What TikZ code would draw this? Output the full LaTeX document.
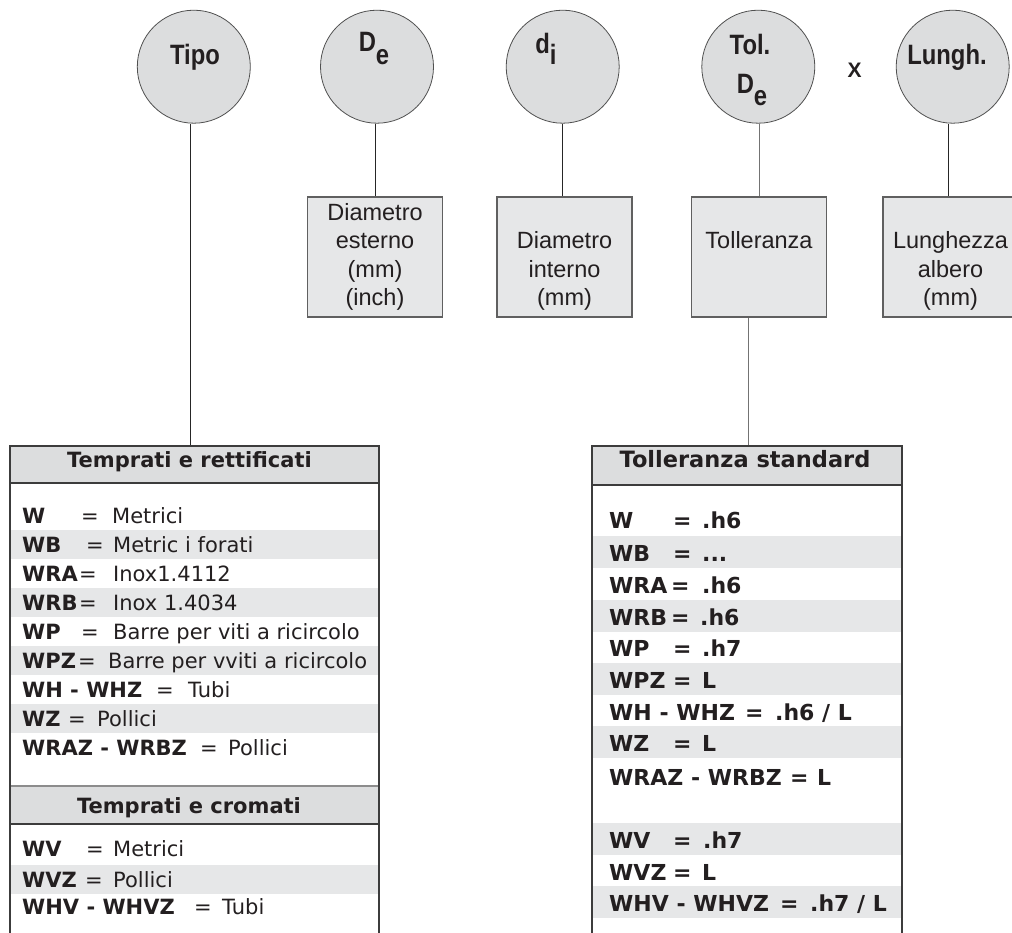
\documentclass[tikz,border=0pt]{standalone}
\usepackage{fontspec}
\setmainfont{Liberation Sans}
\newfontfamily\circfont[FakeStretch=0.85]{Liberation Sans}
\newfontfamily\tabfont{DejaVu Sans}
\definecolor{circfill}{HTML}{DCDDDE}
\definecolor{circline}{HTML}{505050}
\definecolor{boxfill}{HTML}{E6E7E8}
\definecolor{boxline}{HTML}{606060}
\definecolor{headfill}{HTML}{DCDDDE}
\definecolor{bandfill}{HTML}{E6E7E8}
\definecolor{tabline}{HTML}{3C3C3C}
\definecolor{ink}{HTML}{231F20}
\newcommand\lrow[6]{\node[ltxt] (#1) at (22,#2) {\makebox[\dimexpr#3pt-24pt\relax][l]{\textbf{#5}}\makebox[\dimexpr#4pt-#3pt+2pt\relax][l]{=}#6};}
\newcommand\rrow[6]{\node[rtxt] (#1) at (609,#2) {\makebox[\dimexpr#3pt-611pt\relax][l]{#5}\makebox[\dimexpr#4pt-#3pt+2pt\relax][l]{=}#6};}
\begin{document}
\begin{tikzpicture}[x=1pt,y=-1pt,
  circ/.style={circle, draw=circline, fill=circfill, line width=0.8pt, minimum size=113pt, inner sep=0pt},
  clab/.style={font=\circfont\bfseries\fontsize{28}{30}\selectfont, text=ink, inner sep=0pt, anchor=base},
  infobox/.style={draw=boxline, fill=boxfill, line width=1.3pt, minimum width=135pt, minimum height=120pt, inner sep=0pt},
  btxt/.style={font=\fontsize{23.5}{28.5}\selectfont, align=center, text=ink, inner sep=0pt, anchor=north},
  tabframe/.style={draw=tabline, line width=1.5pt, inner sep=0pt, anchor=north west},
  link/.style={draw=black!85, line width=0.9pt},
  linkgray/.style={draw=black!55, line width=0.9pt},
  ltxt/.style={font=\tabfont\fontsize{21}{24}\selectfont, text=ink, inner sep=0pt, anchor=base west},
  rtxt/.style={font=\tabfont\bfseries\fontsize{22}{24}\selectfont, text=ink, inner sep=0pt, anchor=base west},
  lhead/.style={font=\tabfont\bfseries\fontsize{21}{24}\selectfont, text=ink, inner sep=0pt, anchor=base},
  rhead/.style={font=\tabfont\bfseries\fontsize{22.5}{24}\selectfont, text=ink, inner sep=0pt, anchor=base},
  hline/.style={draw=tabline, line width=1.5pt},
  band/.style={fill=bandfill}
]
\useasboundingbox (0,0) rectangle (1012,932);

% circles
\node[circ] (ctipo) at (193.8,66.7) {};
\node[circ] (cde) at (377,66.7) {};
\node[circ] (cdi) at (562.7,66.7) {};
\node[circ] (ctol) at (758.3,66.7) {};
\node[circ] (clun) at (952.7,66.7) {};
\node[clab] (ltipo) at (195,64) {Tipo};
\node[clab] (lde) at (374,51) {D\raisebox{-13pt}{e}};
\node[clab] (ldi) at (546,53) {d\raisebox{-11pt}{i}};
\node[clab] (ltol) at (750,54) {Tol.};
\node[clab] (ltolde) at (752,93) {D\raisebox{-12pt}{e}};
\node[clab] (llun) at (947,64) {Lungh.};
\node[font=\bfseries\fontsize{21}{24}\selectfont, text=ink, inner sep=0pt, anchor=base] (times) at (854.5,77) {X};

% boxes
\node[infobox] (b1) at (375,257) {};
\node[infobox] (b2) at (564.5,257) {};
\node[infobox] (b3) at (759,257) {};
\node[infobox] (b4) at (950.5,257) {};
\node[btxt] (t1) at (375,203) {Diametro\\esterno\\(mm)\\(inch)};
\node[btxt] (t2) at (564.5,231.5) {Diametro\\interno\\(mm)};
\node[btxt] (t3) at (759,231.5) {Tolleranza};
\node[btxt] (t4) at (950.5,231.5) {Lunghezza\\albero\\(mm)};

% left table fills
\fill[headfill] (9,445) rectangle (378,483);
\fill[band] (9,530) rectangle (378,559);
\fill[band] (9,588) rectangle (378,617);
\fill[band] (9,646) rectangle (378,675);
\fill[band] (9,704) rectangle (378,733);
\fill[headfill] (9,786) rectangle (378,824);
\fill[band] (9,865) rectangle (378,894);
\draw[hline] (9,483) -- (378,483);
\draw[draw=black!45, line width=1.2pt] (9,786) -- (378,786);
\draw[hline] (9,824) -- (378,824);
\node[tabframe, minimum width=369pt, minimum height=520pt] (lt) at (9,445) {};

% right table fills
\fill[headfill] (591,445) rectangle (901,485);
\fill[band] (591,536) rectangle (901,568);
\fill[band] (591,600) rectangle (901,632);
\fill[band] (591,663) rectangle (901,695);
\fill[band] (591,726) rectangle (901,758);
\fill[band] (591,823) rectangle (901,855);
\fill[band] (591,886) rectangle (901,918);
\draw[hline] (591,485) -- (901,485);
\node[tabframe, minimum width=310pt, minimum height=520pt] (rt) at (591,445) {};

% connectors
\coordinate (xT) at (190,0);
\coordinate (xdi) at (562,0);
\coordinate (xr) at (748,0);
\coordinate (xl) at (948,0);
\draw[link] (ctipo.south -| xT) -- (lt.north -| xT);
\draw[link] (cde.south -| b1) -- (b1.north);
\draw[link] (cdi.south -| xdi) -- (b2.north -| xdi);
\draw[linkgray] (ctol.south -| b3) -- (b3.north);
\draw[linkgray] (b3.south -| xr) -- (rt.north -| xr);
\draw[link] (clun.south -| xl) -- (b4.north -| xl);

% left table text
\node[lhead] (lh1) at (189.5,467) {Temprati e rettificati};
\lrow{lw}{523}{83}{112}{W}{Metrici}
\lrow{lwb}{552}{88}{113}{WB}{Metric i forati}
\lrow{lwra}{581}{81}{113}{WRA}{Inox1.4112}
\lrow{lwrb}{610}{81}{113}{WRB}{Inox 1.4034}
\lrow{lwp}{639}{83}{113}{WP}{Barre per viti a ricircolo}
\lrow{lwpz}{668}{80}{108}{WPZ}{Barre per vviti a ricircolo}
\lrow{lwh}{697}{158}{188}{WH - WHZ}{Tubi}
\lrow{lwz}{726}{70}{97}{WZ}{Pollici}
\lrow{lwraz}{755}{202}{228}{WRAZ - WRBZ}{Pollici}
\node[lhead] (lh2) at (189,813) {Temprati e cromati};
\lrow{lwv}{856}{88}{113}{WV}{Metrici}
\lrow{lwvz}{887}{87}{113}{WVZ}{Pollici}
\lrow{lwhv}{914}{196}{222}{WHV - WHVZ}{Tubi}

% right table text
\node[rhead] (rh1) at (745,467) {Tolleranza standard};
\rrow{rw}{528}{675}{702}{W}{.h6}
\rrow{rwb}{561}{675}{702}{WB}{...}
\rrow{rwra}{593}{673}{702}{WRA}{.h6}
\rrow{rwrb}{625}{673}{700}{WRB}{.h6}
\rrow{rwp}{656}{675}{702}{WP}{.h7}
\rrow{rwpz}{688}{675}{702}{WPZ}{L}
\rrow{rwh}{720}{747}{775}{WH - WHZ}{.h6 / L}
\rrow{rwz}{751}{675}{702}{WZ}{L}
\rrow{rwraz}{785}{792}{817}{WRAZ - WRBZ}{L}
\rrow{rwv}{848}{675}{703}{WV}{.h7}
\rrow{rwvz}{880}{675}{702}{WVZ}{L}
\rrow{rwhv}{911}{782}{810}{WHV - WHVZ}{.h7 / L}
\end{tikzpicture}
\end{document}
